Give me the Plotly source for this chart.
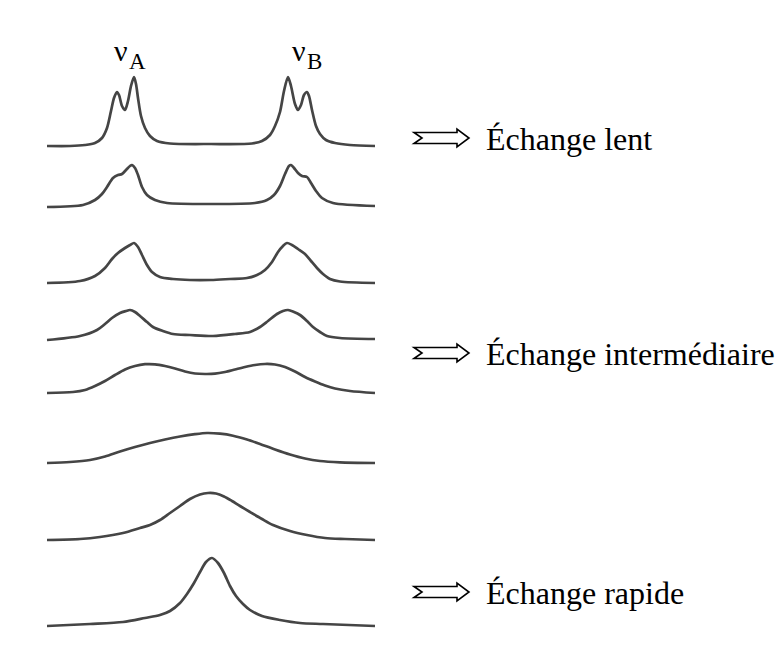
import plotly.graph_objects as go

# Simulated NMR spectra of a two-site exchange (A <-> B), from slow to fast exchange.
# Frequency offsets (relative to the mean of nu_A and nu_B) and intensities, one spectrum per list.
freq_1 = [-164, -141, -126, -116, -109, -104, -100, -97, -94, -92, -89, -86, -83, -80, -77, -75, -73,
          -70, -66, -61, -54, -41, 0, 41, 51, 59, 64, 69, 73, 77, 80, 84, 87, 90, 93, 96, 98, 101,
          105, 109, 115, 124, 139, 164]
inten_1 = [0, 0, 1, 3, 8, 18, 35, 48, 54, 51, 40, 36, 45, 60, 69, 62, 48,
           30, 18, 10, 5, 2.5, 2, 2.5, 5, 11, 20, 34, 55, 69, 60, 42, 36, 41, 51, 54, 50, 36,
           20, 12, 6, 3, 1, 0]

freq_2 = [-164, -128, -116, -109, -104, -98, -93, -89, -85, -81, -79, -76, -73, -69, -64, -56, -44,
          0, 44, 56, 63, 69, 74, 78, 80, 83, 87, 91, 96, 100, 105, 111, 122, 164]
inten_2 = [0, 2, 7, 13, 20, 29, 32, 33, 37, 41, 42, 39, 32, 20, 12, 7, 4,
           3, 4, 7, 12, 21, 33, 41, 42, 39, 34, 31, 30, 24, 16, 9, 4, 1]

freq_3 = [-164, -131, -116, -106, -99, -93, -86, -81, -77, -73, -69, -64, -59, -51, -38, -21, 0,
          19, 36, 46, 54, 61, 67, 72, 76, 81, 87, 94, 100, 106, 112, 119, 129, 164]
inten_3 = [0, 2, 7, 15, 24, 30, 35, 38, 40, 36, 28, 18, 11, 6, 4, 3, 3,
           4, 5, 8, 13, 21, 31, 37, 40, 38, 34, 29, 22, 15, 9, 4, 1.5, 0]

freq_4 = [-164, -131, -114, -106, -99, -91, -85, -81, -76, -71, -64, -58, -48, -38, -21, 2,
          24, 39, 49, 57, 66, 72, 77, 83, 89, 96, 102, 109, 116, 129, 164]
inten_4 = [0, 4, 10, 16, 22, 27, 29, 30, 28, 24, 18, 13, 9, 6, 5, 4,
           6, 8, 13, 19, 26, 29, 30, 28, 25, 19, 13, 8, 4, 2, 1]

freq_5 = [-164, -138, -126, -116, -106, -96, -86, -76, -66, -56, -46, -36, -26, -16, -6,
          4, 14, 24, 34, 44, 54, 64, 74, 84, 94, 104, 114, 124, 139, 164]
inten_5 = [0, 1, 3, 7, 12, 18, 23.5, 27, 28.8, 28.7, 27, 24.5, 21.5, 19.5, 19,
           19.3, 21, 23.5, 26, 28, 29, 28.5, 26, 21.5, 16, 11.5, 7.5, 4.5, 2, 0]

freq_6 = [-164, -141, -121, -106, -91, -76, -61, -46, -31, -16, -4,
          9, 22, 36, 49, 64, 79, 94, 109, 129, 164]
inten_6 = [0, 1, 3, 6.5, 11.5, 16, 20, 23.5, 26.5, 28.8, 30,
           29.3, 27.3, 23.5, 19, 13.5, 8.5, 4.5, 2, 0.7, 0]

freq_7 = [-164, -131, -111, -88, -71, -61, -51, -41, -31, -21, -11, -3,
          5, 13, 21, 29, 39, 51, 62, 79, 96, 114, 134, 164]
inten_7 = [0, 1, 3, 7, 12, 15, 20, 27, 34, 41, 45.5, 47,
           46.5, 43.5, 39, 34, 28, 21, 15, 9, 5, 2, 1, 0]

freq_8 = [-164, -121, -88, -66, -51, -41, -31, -24, -17, -11, -5, 1,
          7, 13, 19, 25, 32, 39, 51, 69, 89, 112, 164]
inten_8 = [0, 2, 4, 8, 11, 15, 23, 32, 43, 54, 64, 68,
           63, 53, 40, 30, 22, 16, 10, 6, 3, 2, 0]

site_labels = ["A", "B"]
regime_labels = ["Échange lent", "Échange intermédiaire", "Échange rapide"]

spectra = [(freq_1, inten_1), (freq_2, inten_2), (freq_3, inten_3), (freq_4, inten_4),
           (freq_5, inten_5), (freq_6, inten_6), (freq_7, inten_7), (freq_8, inten_8)]

# ---- layout (page is 777 x 664 px, plot area fills it) ----
W, H = 777, 664
X0 = 211                      # pixel column of zero frequency offset
stack_offsets = [146, 207, 283, 340, 393, 463, 540, 626]   # baseline row of each spectrum
site_x = [112, 290]           # left edge of the nu_A / nu_B labels
regime_rows = [138, 353, 592]  # vertical centre of each regime arrow

LINE = "#454545"
SERIF = "Liberation Serif, Times New Roman, serif"


def px(x):
    return x / W


def py(y):
    return 1 - y / H


fig = go.Figure()
for (f, inten), base in zip(spectra, stack_offsets):
    fig.add_trace(go.Scatter(
        x=f, y=[v - base for v in inten], mode="lines",
        line=dict(color=LINE, width=2.7, shape="spline", smoothing=0.8),
        hoverinfo="skip", showlegend=False,
    ))

annotations = []
for lab, sx in zip(site_labels, site_x):
    annotations.append(dict(text="ν", x=px(sx), y=py(50), xref="paper", yref="paper",
                            xanchor="left", yanchor="middle", showarrow=False,
                            font=dict(family=SERIF, size=30, color="black")))
    annotations.append(dict(text=lab, x=px(sx + 15), y=py(61), xref="paper", yref="paper",
                            xanchor="left", yanchor="middle", showarrow=False,
                            font=dict(family=SERIF, size=23, color="black")))

shapes = []
for text, cy in zip(regime_labels, regime_rows):
    annotations.append(dict(text=text, x=px(484), y=py(cy + 1), xref="paper", yref="paper",
                            xanchor="left", yanchor="middle", showarrow=False,
                            font=dict(family=SERIF, size=32, color="black")))
    # hollow double arrow with a notched tail
    pts = [(414, cy - 5.5), (457, cy - 5.5), (457, cy - 9), (469, cy), (457, cy + 9),
           (457, cy + 5.5), (414, cy + 5.5), (422, cy)]
    path = "M " + " L ".join(f"{px(a):.5f},{py(b):.5f}" for a, b in pts) + " Z"
    shapes.append(dict(type="path", path=path, xref="paper", yref="paper",
                       line=dict(color="black", width=1.6), fillcolor="white"))

fig.update_layout(
    width=W, height=H, autosize=False,
    margin=dict(l=0, r=0, t=0, b=0),
    paper_bgcolor="white", plot_bgcolor="white",
    xaxis=dict(range=[-X0, W - X0], visible=False, fixedrange=True),
    yaxis=dict(range=[-H, 0], visible=False, fixedrange=True),
    annotations=annotations, shapes=shapes,
)

fig.write_html("out.html")
